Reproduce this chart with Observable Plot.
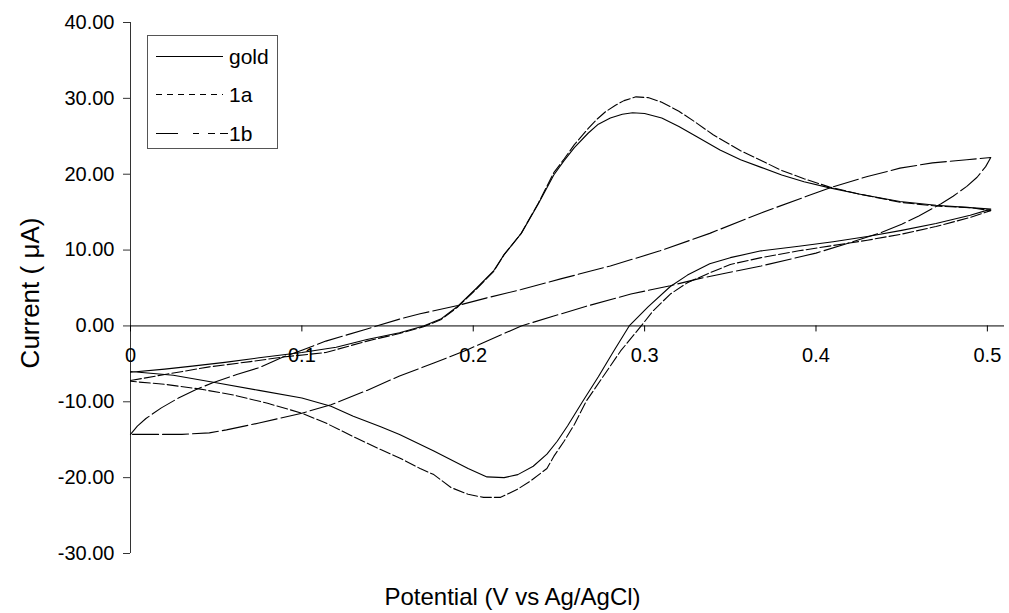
<!DOCTYPE html>
<html>
<head>
<meta charset="utf-8">
<script src="https://cdn.jsdelivr.net/npm/d3@7"></script>
<script src="https://cdn.jsdelivr.net/npm/@observablehq/plot@0.6"></script>
<style>
  body { margin: 0; background: #fff; font-family: "Liberation Sans", Arial, sans-serif; }
  #wrap { position: relative; width: 1009px; height: 613px; }
  #legend { position: absolute; left: 147px; top: 35px; width: 131px; height: 114px; border: 1px solid #555; background: #fff; box-sizing: border-box; }
  #legend svg { display: block; }
</style>
</head>
<body>
<div id="wrap"></div>
<script>
// ---- data (potential V vs Ag/AgCl, current µA), forward scan then reverse scan ----
const seriesNames = ["gold", "1a", "1b"];

const goldV = [0.000,0.020,0.036,0.055,0.075,0.100,0.120,0.138,0.157,0.171,0.181,0.191,0.202,0.212,0.218,0.228,0.238,0.247,0.253,0.259,0.267,0.273,0.280,0.287,0.293,0.300,0.310,0.320,0.330,0.344,0.356,0.368,0.380,0.393,0.408,0.425,0.449,0.470,0.490,0.502,
  0.490,0.470,0.450,0.430,0.410,0.390,0.368,0.350,0.338,0.325,0.315,0.302,0.291,0.282,0.273,0.264,0.255,0.249,0.243,0.235,0.226,0.218,0.208,0.197,0.177,0.157,0.146,0.130,0.117,0.100,0.075,0.050,0.025,0.000];
const goldI = [-6.1,-5.7,-5.3,-4.8,-4.2,-3.5,-2.8,-1.8,-0.9,0.0,0.9,2.6,5.0,7.3,9.4,12.2,16.1,19.9,21.8,23.5,25.4,26.6,27.4,27.9,28.1,28.0,27.4,26.3,25.0,23.2,21.9,20.9,19.9,19.0,18.2,17.4,16.4,15.9,15.6,15.4,
  14.6,13.5,12.6,11.8,11.1,10.5,9.9,9.0,8.2,6.7,5.2,2.5,0.0,-3.3,-6.7,-9.9,-13.2,-15.2,-16.9,-18.5,-19.6,-20.0,-19.9,-18.8,-16.5,-14.3,-13.3,-11.9,-10.6,-9.5,-8.5,-7.5,-6.5,-6.0];

const s1aV = [0.000,0.020,0.046,0.070,0.089,0.114,0.138,0.157,0.171,0.181,0.191,0.202,0.212,0.218,0.228,0.238,0.247,0.253,0.259,0.267,0.272,0.277,0.283,0.288,0.295,0.302,0.310,0.320,0.330,0.340,0.356,0.368,0.380,0.393,0.408,0.425,0.449,0.470,0.490,0.502,
  0.490,0.470,0.450,0.430,0.410,0.390,0.368,0.350,0.338,0.325,0.315,0.305,0.298,0.286,0.276,0.266,0.259,0.253,0.247,0.243,0.233,0.226,0.216,0.206,0.197,0.187,0.177,0.169,0.157,0.146,0.130,0.114,0.100,0.080,0.060,0.040,0.020,0.000];
const s1aI = [-7.2,-6.4,-5.4,-4.7,-4.1,-3.5,-2.0,-1.0,-0.1,0.8,2.5,4.9,7.2,9.4,12.2,16.2,20.2,22.0,23.9,26.0,27.2,28.2,29.1,29.7,30.2,30.1,29.5,28.3,26.8,25.2,23.1,21.8,20.5,19.4,18.3,17.4,16.3,15.8,15.6,15.2,
  14.3,13.1,12.1,11.3,10.6,9.9,9.0,8.1,7.0,5.7,4.2,2.0,0.0,-3.3,-6.6,-9.9,-13.0,-15.2,-17.2,-18.8,-20.5,-21.5,-22.6,-22.6,-22.2,-21.3,-19.6,-18.8,-17.4,-16.3,-14.6,-12.8,-11.5,-10.2,-9.1,-8.3,-7.7,-7.3];

const s1bV = [0.000,0.004,0.009,0.018,0.028,0.038,0.048,0.062,0.075,0.089,0.100,0.114,0.138,0.157,0.169,0.191,0.208,0.228,0.251,0.280,0.309,0.338,0.368,0.408,0.430,0.449,0.468,0.488,0.502,
  0.499,0.494,0.488,0.480,0.473,0.460,0.450,0.438,0.420,0.400,0.368,0.333,0.315,0.292,0.266,0.247,0.228,0.216,0.197,0.177,0.157,0.138,0.117,0.100,0.075,0.056,0.046,0.030,0.000];
const s1bI = [-14.3,-13.2,-12.2,-10.8,-9.5,-8.4,-7.5,-6.4,-5.5,-4.1,-3.2,-2.0,-0.4,0.9,1.6,2.7,3.7,4.8,6.2,7.9,9.9,12.2,14.9,18.2,19.7,20.8,21.5,21.9,22.2,
  21.0,19.6,18.4,17.1,16.1,14.5,13.4,12.3,11.0,9.6,7.9,6.3,5.3,4.2,2.6,1.3,0.0,-1.2,-3.1,-4.9,-6.6,-8.5,-10.4,-11.5,-12.8,-13.7,-14.1,-14.3,-14.3];

const yTicks = [-30, -20, -10, 0, 10, 20, 30, 40];
const xTicks = [0, 0.1, 0.2, 0.3, 0.4, 0.5];
const xTickLabels = ["0", "0.1", "0.2", "0.3", "0.4", "0.5"];
const xTitle = "Potential (V vs Ag/AgCl)";
const yTitle = "Current ( \u03BCA)";

// ---- build table ----
const toRows = (name, V, I) => V.map((v, k) => ({series: name, v, i: I[k]}));
const rows = {
  "gold": toRows("gold", goldV, goldI),
  "1a": toRows("1a", s1aV, s1aI),
  "1b": toRows("1b", s1bV, s1bI)
};
const dashes = {"gold": null, "1a": "11,3", "1b": "26,4"};

const FONT = "'Liberation Sans', Arial, sans-serif";

const chart = Plot.plot({
  width: 1009,
  height: 613,
  marginLeft: 130,
  marginRight: 5,
  marginTop: 22,
  marginBottom: 60,
  x: {domain: [0, 0.51], axis: null},
  y: {domain: [-30, 40], axis: null},
  style: {fontFamily: FONT, background: "white", color: "black", overflow: "visible"},
  marks: [
    Plot.ruleX([0], {stroke: "#333", strokeWidth: 1}),
    Plot.axisY({ticks: yTicks, tickFormat: d => d.toFixed(2), tickSize: 7, tickPadding: 9, fontSize: 20, label: null, stroke: "#333"}),
    Plot.ruleY([0], {stroke: "black", strokeWidth: 1}),
    Plot.ruleX(xTicks, {x: d => d, y1: 0, y2: 0, insetBottom: -6, stroke: "black"}),
    Plot.text(xTicks, {x: d => d, y: 0, text: (d, k) => xTickLabels[k], dy: 30, fontSize: 20, fill: "black"}),
    ...seriesNames.map(name => Plot.line(rows[name], {
      x: "v", y: "i", stroke: "black", strokeWidth: 1.1,
      strokeDasharray: dashes[name] || undefined, curve: "linear"
    })),
    Plot.text([yTitle], {frameAnchor: "left", text: d => d, rotate: -90, dx: -100, dy: 5, fontSize: 26, fill: "black", textAnchor: "middle", lineAnchor: "middle"}),
    Plot.text([xTitle], {frameAnchor: "bottom", text: d => d, dy: 44, dx: -55, fontSize: 24, fill: "black", textAnchor: "middle", lineAnchor: "middle"})
  ]
});

const wrap = document.getElementById("wrap");
wrap.appendChild(chart);

// ---- legend (inside plot area, top-left) ----
const legendPatterns = {"gold": null, "1a": "6,5", "1b": "22,15,6,9,7,5,8"};
const legend = document.createElement("div");
legend.id = "legend";
const ns = "http://www.w3.org/2000/svg";
const lsvg = document.createElementNS(ns, "svg");
lsvg.setAttribute("width", "129");
lsvg.setAttribute("height", "112");
const rowY = [20, 58, 97];
seriesNames.forEach((name, k) => {
  const ln = document.createElementNS(ns, "line");
  ln.setAttribute("x1", 8); ln.setAttribute("x2", name === "1b" ? 80 : 75);
  ln.setAttribute("y1", rowY[k] + 0.5); ln.setAttribute("y2", rowY[k] + 0.5);
  ln.setAttribute("stroke", "black"); ln.setAttribute("stroke-width", "1.2");
  if (legendPatterns[name]) ln.setAttribute("stroke-dasharray", legendPatterns[name]);
  lsvg.appendChild(ln);
  const tx = document.createElementNS(ns, "text");
  tx.setAttribute("x", 81); tx.setAttribute("y", rowY[k]);
  tx.setAttribute("dy", "0.36em");
  tx.setAttribute("font-size", "21");
  tx.setAttribute("font-family", FONT);
  tx.textContent = name;
  lsvg.appendChild(tx);
});
legend.appendChild(lsvg);
wrap.appendChild(legend);
</script>
</body>
</html>
